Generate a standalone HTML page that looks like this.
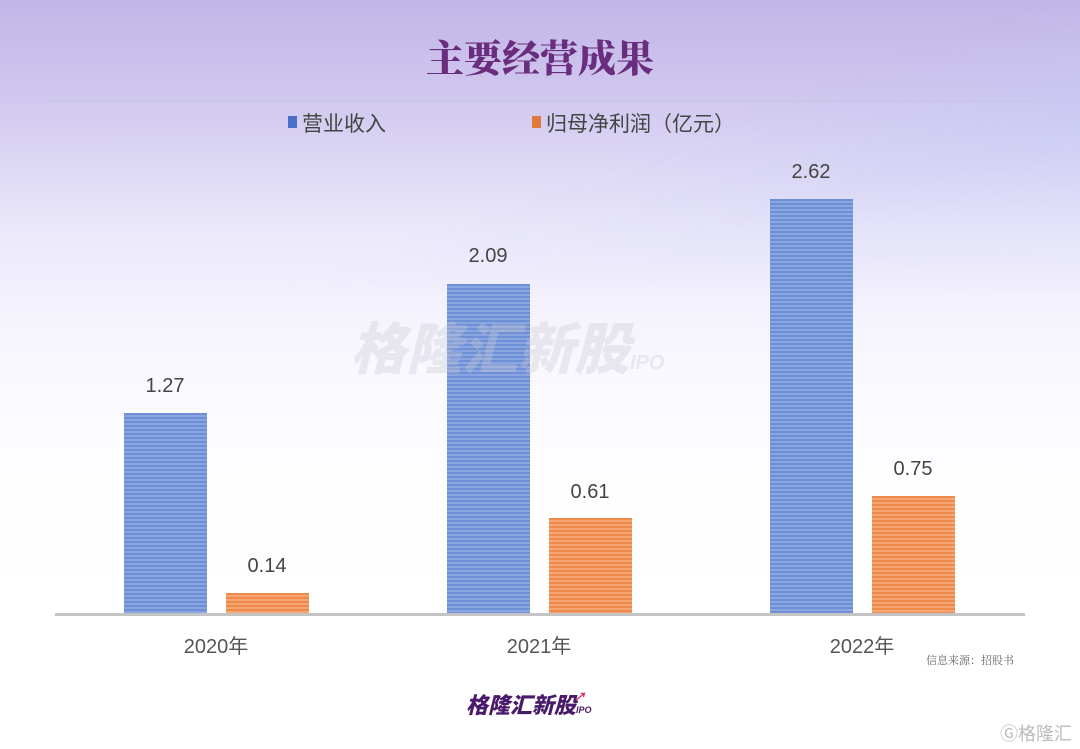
<!DOCTYPE html>
<html><head><meta charset="utf-8"><style>
body{margin:0;width:1080px;height:749px;overflow:hidden;position:relative;font-family:"Liberation Sans","Noto Sans CJK SC",sans-serif;
background:linear-gradient(180deg,#c2b5e6 0px,#cfc6ee 90px,#ddd7f5 160px,#ebe8fb 230px,#f6f5fd 330px,#fdfdff 450px,#fff 600px);}
.t{position:absolute;white-space:nowrap;}
.bar{position:absolute;background:repeating-linear-gradient(180deg,var(--a) 0 2px,var(--b) 2px 4px);}
.blue{--a:#6c8fd6;--b:#8aa6e0;}
.org{--a:#f08a4a;--b:#f5a673;}
.v{position:absolute;width:100px;text-align:center;font-size:20px;color:#444;}
</style></head><body>
<div style="position:absolute;left:0;top:0;width:1080px;height:300px;background:linear-gradient(160deg,transparent 55%,rgba(190,200,245,0.4) 75%,rgba(200,210,250,0.45) 100%);-webkit-mask-image:linear-gradient(180deg,#000 0%,#000 40%,transparent 100%);mask-image:linear-gradient(180deg,#000 0%,#000 40%,transparent 100%);"></div>
<div class="t" style="left:0;width:1080px;top:28px;text-align:center;font-family:'Noto Serif CJK SC',serif;font-weight:900;font-size:38px;color:#6a2d7e;">主要经营成果</div>
<div style="position:absolute;left:48px;top:100px;width:984px;height:2px;background:rgba(200,195,230,0.6)"></div>
<div style="position:absolute;left:288px;top:116px;width:9px;height:12px;background:#4a6fc8"></div>
<div class="t" style="left:302px;top:108px;font-size:21px;color:#444">营业收入</div>
<div style="position:absolute;left:532px;top:116px;width:9px;height:12px;background:#e07a3a"></div>
<div class="t" style="left:546px;top:108px;font-size:21px;color:#444">归母净利润（亿元）</div>

<div class="bar blue" style="left:124px;top:413px;width:83px;height:200px"></div>
<div class="bar org" style="left:226px;top:593px;width:83px;height:20px"></div>
<div class="bar blue" style="left:447px;top:284px;width:83px;height:329px"></div>
<div class="bar org" style="left:549px;top:518px;width:83px;height:95px"></div>
<div class="bar blue" style="left:770px;top:199px;width:83px;height:414px"></div>
<div class="bar org" style="left:872px;top:496px;width:83px;height:117px"></div>

<div class="t" style="left:350px;top:305px;font-size:56px;font-weight:900;font-style:italic;color:rgba(200,200,210,0.35);z-index:2">格隆汇新股<span style="font-size:20px">IPO</span></div>

<div class="v" style="left:115px;top:375px">1.27</div>
<div class="v" style="left:217px;top:555px">0.14</div>
<div class="v" style="left:438px;top:245px">2.09</div>
<div class="v" style="left:540px;top:481px">0.61</div>
<div class="v" style="left:761px;top:161px">2.62</div>
<div class="v" style="left:863px;top:458px">0.75</div>

<div style="position:absolute;left:55px;top:613px;width:970px;height:3px;background:#c4c4c4"></div>
<div class="t" style="left:166px;width:100px;text-align:center;top:630px;font-size:20px;color:#555">2020年</div>
<div class="t" style="left:489px;width:100px;text-align:center;top:630px;font-size:20px;color:#555">2021年</div>
<div class="t" style="left:812px;width:100px;text-align:center;top:630px;font-size:20px;color:#555">2022年</div>
<div class="t" style="left:926px;top:652px;font-size:11px;color:#666;font-family:'Noto Serif CJK SC',serif">信息来源：招股书</div>
<div class="t" style="left:466px;top:688px;font-size:22px;font-weight:900;font-style:italic;color:#4a1a6a">格隆汇新股<span style="font-size:9px">IPO</span><span style="color:#e0306a;font-size:12px;position:relative;top:-12px;left:-18px">↗</span></div>
<div class="t" style="left:1000px;top:720px;font-size:18px;color:#bbb">Ⓖ格隆汇</div>
</body></html>
